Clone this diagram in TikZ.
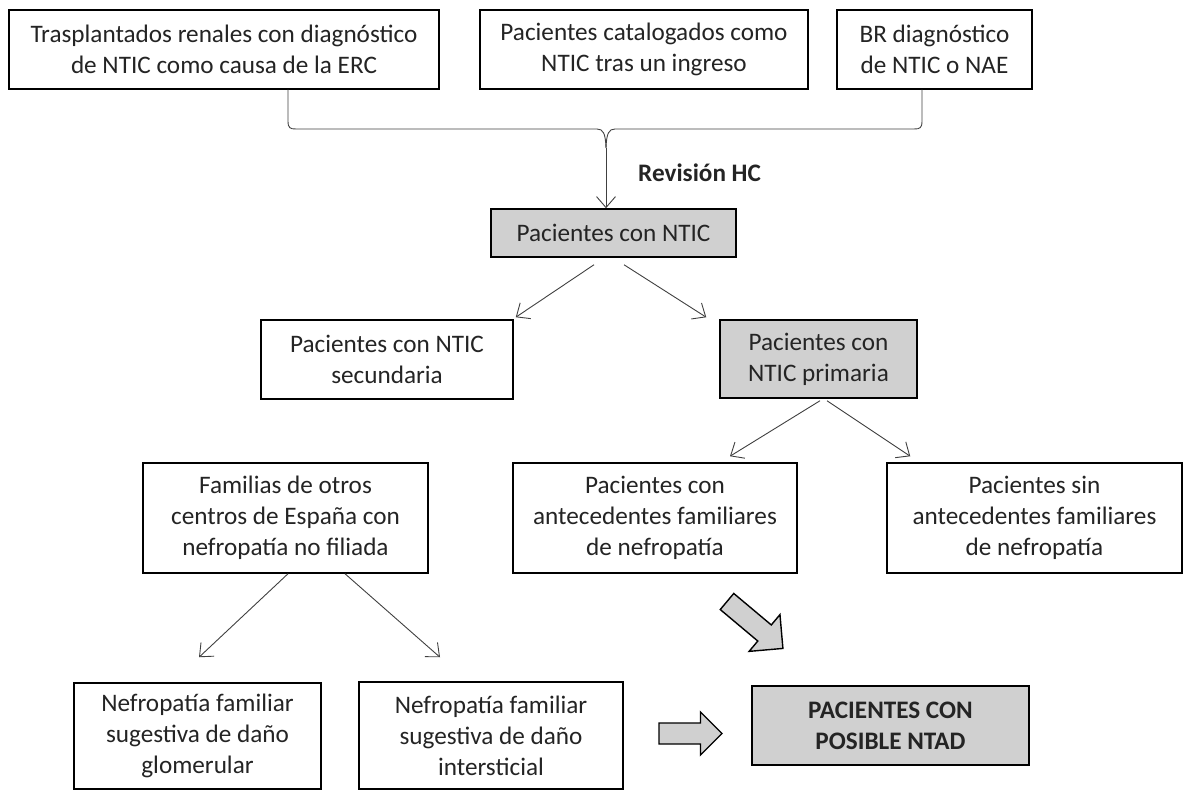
\documentclass[tikz,border=0pt]{standalone}
\usepackage{fontspec}
\setmainfont{Carlito}
\usetikzlibrary{arrows.meta,calc}
\definecolor{boxgray}{RGB}{208,208,208}
\definecolor{linegray}{RGB}{64,64,64}
\definecolor{inkgray}{RGB}{36,36,36}
\newcommand\dgmfont{\fontsize{25.2}{31}\selectfont}

\begin{document}
\begin{tikzpicture}[x=1pt,y=-1pt,
  box/.style={draw=black, line width=1.5pt, fill=white, align=center,
              inner sep=0pt, text=inkgray, font=\dgmfont},
  shaded/.style={box, fill=boxgray},
  conn/.style={draw=linegray, line width=0.9pt,
               -{Straight Barb[length=11pt,width=19pt,line width=0.9pt]}},
  brace/.style={draw=linegray, line width=0.9pt},
  blockarr/.style={draw=black, line width=1.4pt, fill=boxgray, line join=miter},
]
\useasboundingbox (0,0) rectangle (1187,791);

% sources
\node[box, minimum width=430, minimum height=79] (t1) at (224,49.5)
  {Trasplantados renales con diagnóstico\\de NTIC como causa de la ERC};
\node[box, minimum width=328, minimum height=79] (t2) at (644,49.5)
  {Pacientes catalogados como\\NTIC tras un ingreso};
\node[box, minimum width=195, minimum height=79] (t3) at (934.5,49.5)
  {BR diagnóstico\\de NTIC o NAE};

% review of clinical records
\node[shaded, minimum width=245, minimum height=48] (ntic) at (613.5,233)
  {Pacientes con NTIC};
\node[font=\dgmfont\bfseries, text=inkgray, anchor=base west, inner sep=0pt]
  (rev) at (638,182) {Revisión HC};

% secondary / primary
\node[box, minimum width=252, minimum height=79] (sec) at (387,359.5)
  {Pacientes con NTIC\\secundaria};
\node[shaded, minimum width=197, minimum height=78] (prim) at (818.5,359)
  {Pacientes con\\NTIC primaria};

% family history
\node[box, minimum width=285, minimum height=110] (fam) at (285.5,518)
  {Familias de otros\\centros de España con\\nefropatía no filiada};
\node[box, minimum width=284, minimum height=110] (ant) at (655,518)
  {Pacientes con\\antecedentes familiares\\de nefropatía};
\node[box, minimum width=295, minimum height=110] (sin) at (1034.5,518)
  {Pacientes sin\\antecedentes familiares\\de nefropatía};

% damage type
\node[box, minimum width=247, minimum height=106] (glo) at (197.5,736)
  {Nefropatía familiar\\sugestiva de daño\\glomerular};
\node[box, minimum width=264, minimum height=107] (int) at (491,735.5)
  {Nefropatía familiar\\sugestiva de daño\\intersticial};

% outcome
\node[shaded, minimum width=277, minimum height=79,
      font=\dgmfont\bfseries] (ntad) at (890.5,725.5)
  {PACIENTES CON\\POSIBLE NTAD};

% brace joining the three sources
\coordinate (bL) at (288,129);
\coordinate (bR) at (922,129);
\coordinate (tip) at (606,148);
\draw[brace] (t1.south -| bL) -- ($(bL)+(0,-8)$)
  .. controls ($(bL)+(0,-1)$) and ($(bL)+(2,0)$) .. ($(bL)+(8,0)$)
  -- ($(tip)+(-9,-19)$)
  .. controls ($(tip)+(-3,-19)$) and ($(tip)+(-0.5,-15)$) .. (tip);
\draw[brace] (t3.south -| bR) -- ($(bR)+(0,-8)$)
  .. controls ($(bR)+(0,-1)$) and ($(bR)+(-2,0)$) .. ($(bR)+(-8,0)$)
  -- ($(tip)+(9,-19)$)
  .. controls ($(tip)+(3,-19)$) and ($(tip)+(0.5,-15)$) .. (tip);
\draw[conn] (tip) -- (ntic.north -| tip);

% thin connectors
\draw[conn] ($(ntic.south)+(-19.5,7)$) -- ($(sec.north east)+(2,-2)$);
\draw[conn] ($(ntic.south)+(10.5,7)$) -- ($(prim.north west)+(-13,-2)$);
\draw[conn] ($(prim.south)+(1.5,2)$) -- ($(ant.north)+(75,-6)$);
\draw[conn] ($(prim.south)+(8.5,2)$) -- ($(sin.north west)+(24,-6)$);
\draw[conn] ($(fam.south)+(2.5,0)$) -- ($(glo.north)+(1.5,-25)$);
\draw[conn] ($(fam.south)+(59.5,0)$) -- ($(int.north)+(-51,-24)$);

% block arrows towards the outcome
\begin{scope}[shift={(727,601.5)}, rotate=-40]
  \draw[blockarr] (0,-10.5) -- (49,-10.5) -- (49,-24) -- (73,0)
    -- (49,24) -- (49,10.5) -- (0,10.5) -- cycle;
\end{scope}
\begin{scope}[shift={(659,733.5)}]
  \draw[blockarr] (0,-10.5) -- (41.5,-10.5) -- (41.5,-21.5) -- (63,0)
    -- (41.5,21.5) -- (41.5,10.5) -- (0,10.5) -- cycle;
\end{scope}
\end{tikzpicture}
\end{document}
